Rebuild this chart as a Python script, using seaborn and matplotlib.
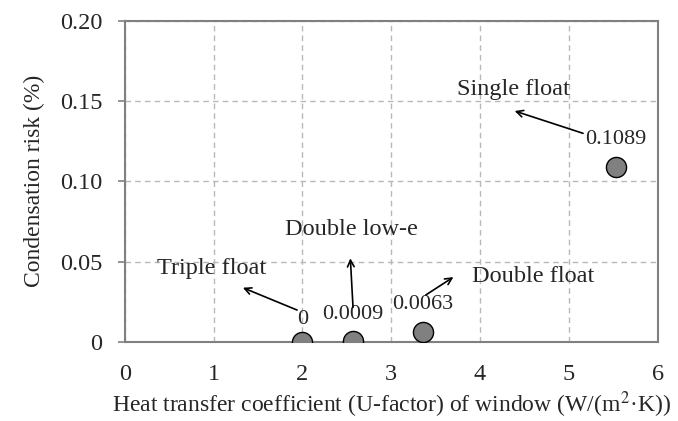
import matplotlib
matplotlib.use("Agg")
import matplotlib.pyplot as plt
import seaborn as sns
import pandas as pd
from matplotlib.ticker import FuncFormatter

# Window glazing types: U-factor vs. condensation risk
glazing = ["Triple float", "Double low-e", "Double float", "Single float"]
u_factor = [2.0, 2.57, 3.36, 5.53]
condensation_risk = [0.0, 0.0009, 0.0063, 0.1089]

x_ticks = [0, 1, 2, 3, 4, 5, 6]
y_ticks = [0, 0.05, 0.10, 0.15, 0.20]

df = pd.DataFrame({"glazing": glazing, "u": u_factor, "risk": condensation_risk})

sns.set_style("white")
plt.rcParams["font.family"] = ["Liberation Serif", "DejaVu Serif"]
plt.rcParams["mathtext.fontset"] = "stix"

fig = plt.figure(figsize=(6.78, 4.21), dpi=100)
ax = fig.add_axes([0.184, 0.1876, 0.786, 0.7632])

ax.set_axisbelow(True)
ax.grid(True, color="#b8b8b8", linestyle=(0, (4, 3)), linewidth=1.0)

sns.scatterplot(data=df, x="u", y="risk", ax=ax, s=210, color="#808080",
                edgecolor="black", linewidth=1.0, zorder=3, legend=False)

ax.set_xlim(0, 6)
ax.set_ylim(0, 0.20)
ax.set_xticks(x_ticks)
ax.set_yticks(y_ticks)
ax.yaxis.set_major_formatter(FuncFormatter(lambda v, p: "0" if v == 0 else f"{v:.2f}"))
ax.tick_params(axis="y", direction="out", length=5, width=1.2, color="#808080",
               labelsize=17.5, pad=11, left=True)
ax.tick_params(axis="x", length=0, labelsize=17.5, pad=16)

for side in ["left", "right", "top", "bottom"]:
    ax.spines[side].set_color("#808080")
    ax.spines[side].set_linewidth(1.5)
    ax.spines[side].set_visible(True)

ax.set_xlabel("Heat transfer coefficient (U-factor) of window (W/(m$^2$·K))", fontsize=17, labelpad=3)
ax.set_ylabel("Condensation risk (%)", fontsize=17, labelpad=11)

# Value labels above each point
label_offsets = [16, 19, 20, 20]
for u, r, off in zip(u_factor, condensation_risk, label_offsets):
    ax.annotate(f"{r:g}", xy=(u, r), xytext=(0, off), textcoords="offset points",
                ha="center", va="center", fontsize=16)

# Glazing names with arrows
name_pos = {
    "Triple float": (0.98, 0.0459),
    "Double low-e": (2.556, 0.0701),
    "Double float": (4.60, 0.0407),
    "Single float": (4.376, 0.1573),
}
arrows = {
    "Triple float": ((1.94, 0.0199), (1.33, 0.0338)),
    "Double low-e": ((2.57, 0.0216), (2.54, 0.0521)),
    "Double float": ((3.39, 0.0293), (3.70, 0.0404)),
    "Single float": ((5.16, 0.1299), (4.39, 0.1438)),
}
for name in glazing:
    ax.text(*name_pos[name], name, ha="center", va="center", fontsize=17.5)
    start, end = arrows[name]
    ax.annotate("", xy=end, xytext=start,
                arrowprops=dict(arrowstyle="->", color="black", lw=1.2,
                                shrinkA=0, shrinkB=0, mutation_scale=12))

fig.savefig("out.png", dpi=100)
